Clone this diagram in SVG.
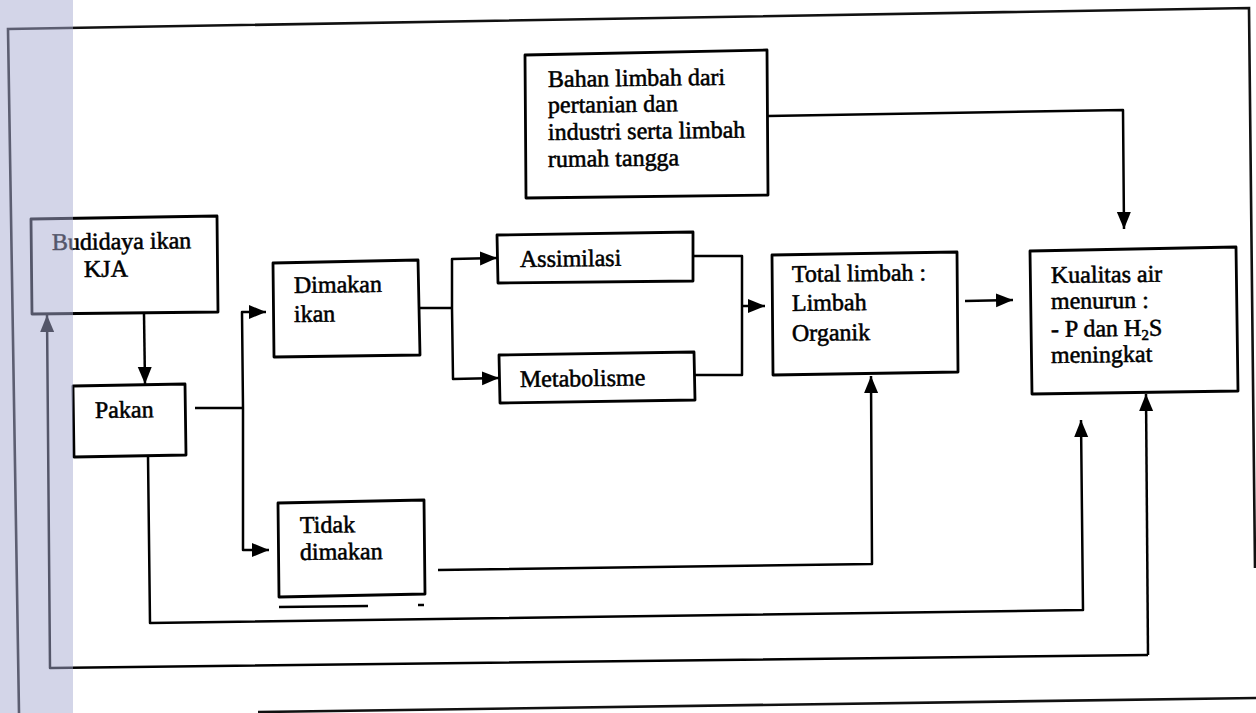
<svg xmlns="http://www.w3.org/2000/svg" width="1256" height="713" viewBox="0 0 1256 713">
<style>
  .box{fill:#fff;stroke:#000;stroke-width:2.8;stroke-linejoin:round}
  .ln{fill:none;stroke:#000;stroke-width:2.5;stroke-linejoin:round}
  .fr{fill:none;stroke:#111;stroke-width:2.6}
  text{font-family:"Liberation Serif","Times New Roman",serif;font-size:24px;fill:#000;stroke:#000;stroke-width:0.55}
</style>
<defs>
  <marker id="ah" markerUnits="userSpaceOnUse" markerWidth="18" markerHeight="15" refX="17" refY="7" orient="auto">
    <path d="M0,0 L17,7 L0,14 z" fill="#000"/>
  </marker>
</defs>
<rect width="1256" height="713" fill="#fff"/>

<g id="frame">
  <path class="fr" d="M19,713 L8,29 L1249,8 L1255,568"/>
  <path class="fr" d="M258,712 L1256,698"/>
  <path class="ln" d="M279,607 L368,606"/>
  <path class="ln" d="M418,605 L424,605"/>
</g>

<g id="connectors">
  <path class="ln" d="M144,314 L145,384" marker-end="url(#ah)"/>
  <path class="ln" d="M195,408 L242,408"/>
  <path class="ln" d="M243,408 L242,312 L266,312" marker-end="url(#ah)"/>
  <path class="ln" d="M243,408 L243,550 L269,550" marker-end="url(#ah)"/>
  <path class="ln" d="M420,308 L452,308"/>
  <path class="ln" d="M452,308 L452,259 L497,258" marker-end="url(#ah)"/>
  <path class="ln" d="M452,308 L453,379 L499,378" marker-end="url(#ah)"/>
  <path class="ln" d="M693,256 L742,256 L742,375 L695,375"/>
  <path class="ln" d="M742,306 L765,306" marker-end="url(#ah)"/>
  <path class="ln" d="M965,301 L1013,300" marker-end="url(#ah)"/>
  <path class="ln" d="M768,116 L1123,110 L1124,229" marker-end="url(#ah)"/>
  <path class="ln" d="M438,570 L872,564 L871,376" marker-end="url(#ah)"/>
  <path class="ln" d="M148,456 L150,623 L1083,610 L1081,420" marker-end="url(#ah)"/>
  <path class="ln" d="M1148,655 L1146,394" marker-end="url(#ah)"/>
  <path class="ln" d="M1148,655 L50,668 L47,315" marker-end="url(#ah)"/>
</g>

<g id="budidaya">
  <path class="box" d="M31,219 L217,216 L218,312 L32,314 Z"/>
  <text x="52" y="250" transform="rotate(-0.7 52 250)">Budidaya ikan</text>
  <text x="84" y="277" transform="rotate(-0.7 84 277)">KJA</text>
</g>
<g id="pakan">
  <path class="box" d="M73,386 L185,384 L186,455 L74,457 Z"/>
  <text x="95" y="418" transform="rotate(-0.7 95 418)">Pakan</text>
</g>
<g id="dimakan">
  <path class="box" d="M273,263 L418,260 L420,355 L274,357 Z"/>
  <text x="294" y="293" transform="rotate(-0.7 294 293)">Dimakan</text>
  <text x="294" y="322" transform="rotate(-0.7 294 322)">ikan</text>
</g>
<g id="tidak">
  <path class="box" d="M278,503 L424,500 L425,594 L279,597 Z"/>
  <text x="300" y="533" transform="rotate(-0.7 300 533)">Tidak</text>
  <text x="300" y="560" transform="rotate(-0.7 300 560)">dimakan</text>
</g>
<g id="assimilasi">
  <path class="box" d="M497,235 L693,232 L693,281 L498,283 Z"/>
  <text x="520" y="267" transform="rotate(-0.7 520 267)">Assimilasi</text>
</g>
<g id="metabolisme">
  <path class="box" d="M499,355 L694,352 L695,400 L500,403 Z"/>
  <text x="520" y="387" transform="rotate(-0.7 520 387)">Metabolisme</text>
</g>
<g id="bahan">
  <path class="box" d="M525,55 L767,50 L768,195 L526,198 Z"/>
  <text x="548" y="87" transform="rotate(-0.7 548 87)">Bahan limbah dari</text>
  <text x="548" y="113" transform="rotate(-0.7 548 113)">pertanian dan</text>
  <text x="548" y="140" transform="rotate(-0.7 548 140)">industri serta limbah</text>
  <text x="548" y="167" transform="rotate(-0.7 548 167)">rumah tangga</text>
</g>
<g id="total">
  <path class="box" d="M772,255 L957,252 L958,372 L773,375 Z"/>
  <text x="792" y="282" transform="rotate(-0.7 792 282)">Total limbah :</text>
  <text x="792" y="311" transform="rotate(-0.7 792 311)">Limbah</text>
  <text x="792" y="341" transform="rotate(-0.7 792 341)">Organik</text>
</g>
<g id="kualitas">
  <path class="box" d="M1030,251 L1236,247 L1238,391 L1032,394 Z"/>
  <text x="1051" y="283" transform="rotate(-0.7 1051 283)">Kualitas air</text>
  <text x="1051" y="309" transform="rotate(-0.7 1051 309)">menurun :</text>
  <text x="1051" y="337" transform="rotate(-0.7 1051 337)">- P dan H<tspan font-size="15" dy="4">2</tspan><tspan dy="-4">S</tspan></text>
  <text x="1051" y="363" transform="rotate(-0.7 1051 363)">meningkat</text>
</g>

<rect id="band" x="0" y="0" width="73" height="713" fill="#a7abd1" opacity="0.5"/>
</svg>
